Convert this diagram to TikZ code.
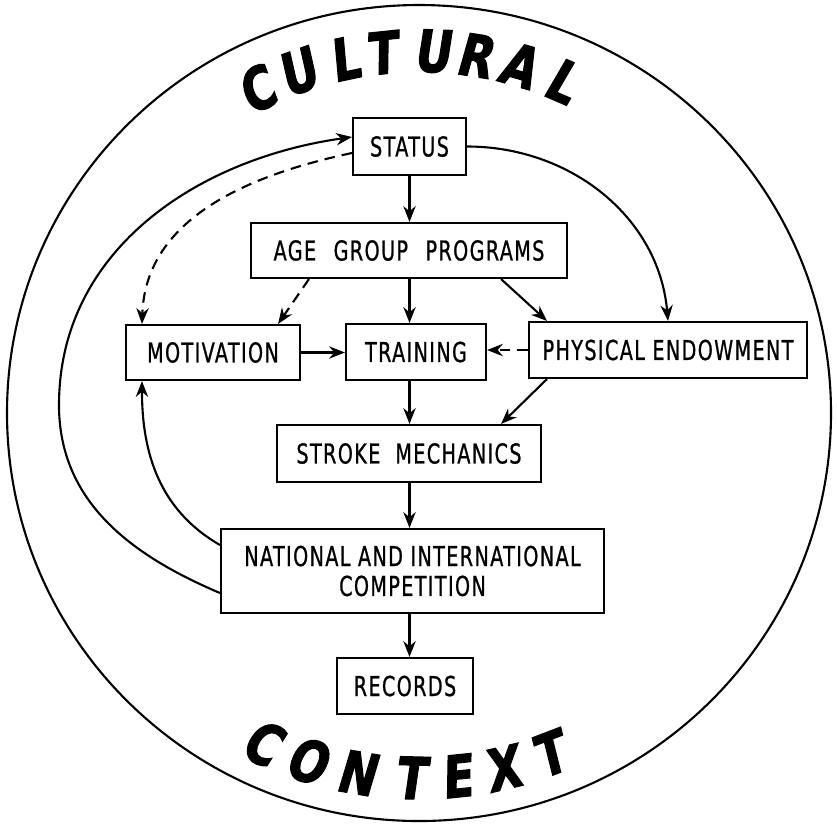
\documentclass[tikz,border=0pt]{standalone}
\usepackage{fontspec}
\setmainfont{DejaVu Sans}
\newfontfamily\boxfont[FakeStretch=0.7,LetterSpace=5,FakeBold=0.8]{DejaVu Sans}
\newfontfamily\bigfont[FakeStretch=0.78,FakeSlant=0.12,FakeBold=2]{DejaVu Sans}
\usetikzlibrary{arrows.meta,calc}

\begin{document}
\begin{tikzpicture}[x=0.02cm,y=0.02cm,
  box/.style={draw,line width=1.2pt,inner sep=0pt,align=center,
    font=\boxfont\fontsize{15.6}{17}\selectfont},
  arr/.style={line width=1.2pt,-{Stealth[length=9pt,width=7pt]}},
  dsh/.style={arr,dash pattern=on 6pt off 4pt},
  big/.style={font=\bigfont\bfseries\fontsize{33}{33}\selectfont,inner sep=0pt}]
\useasboundingbox (0,0) rectangle (837,-823);
\coordinate (O) at (419,-413);
\draw[line width=1.2pt] (O) ellipse [x radius=412, y radius=408];

% lettering around the rim
\foreach \ch/\ang [count=\i] in {C/116.7,U/109.6,L/101.9,T/96.0,U/87.9,R/81.1,A/74.0,L/66.6}
  \node[big,rotate=\ang-90] (top\i) at ($(O)+(\ang:362)$) {\ch};
\foreach \ch/\ang [count=\i] in {C/244.6,O/252.2,N/260.2,T/268.6,E/275.9,X/283.2,T/290.9}
  \node[big,rotate=\ang+90] (bot\i) at ($(O)+(\ang:365)$) {\ch};

% boxes
\node[box,minimum width=2.26cm,minimum height=1.14cm] (status) at (409.5,-146.5) {STATUS};
\node[box,minimum width=6.32cm,minimum height=1.10cm] (age) at (409,-250.5) {AGE\hspace{0.35cm}GROUP\hspace{0.35cm}PROGRAMS};
\node[box,minimum width=3.48cm,minimum height=1.10cm] (motivation) at (213,-352.5) {MOTIVATION};
\node[box,minimum width=2.80cm,minimum height=1.12cm] (training) at (416,-352) {TRAINING};
\node[box,minimum width=5.56cm,minimum height=1.12cm] (physical) at (668,-350) {PHYSICAL ENDOWMENT};
\node[box,minimum width=5.28cm,minimum height=1.14cm] (stroke) at (409,-453.5) {STROKE\hspace{0.3cm}MECHANICS};
\node[box,minimum width=7.66cm,minimum height=1.68cm] (national) at (412.5,-571) {NATIONAL AND INTERNATIONAL\\COMPETITION};
\node[box,minimum width=2.72cm,minimum height=1.12cm] (records) at (405,-686) {RECORDS};

% connectors
\draw[arr] (status.south) -- (status.south |- age.north);
\draw[arr] (status.south |- age.south) -- (status.south |- training.north);
\draw[dsh] ([xshift=1.18cm]age.south west) -- ([xshift=-0.46cm]motivation.north east);
\draw[arr] ([xshift=-1.34cm]age.south east) -- ([xshift=0.38cm]physical.north west);
\draw[arr] (status.east) to[out=0,in=95] (physical.north);
\draw[arr] (motivation.east) -- (motivation.east -| training.west);
\draw[dsh] (physical.west) -- (physical.west -| training.east);
\draw[arr] (status.south |- training.south) -- (status.south |- stroke.north);
\draw[arr] ([xshift=0.38cm]physical.south west) -- ([xshift=-0.82cm]stroke.north east);
\draw[arr] (status.south |- stroke.south) -- (status.south |- national.north);
\draw[arr] (status.south |- national.south) -- (status.south |- records.north);
\draw[arr] ([yshift=0.52cm]national.west) to[out=150,in=-90] ([xshift=0.34cm]motivation.south west);
\coordinate (loopL) at (59,-405);
\draw[arr] ([yshift=-0.44cm]national.west) to[out=157,in=-90] (loopL)
  to[out=90,in=188] ([yshift=0.19cm]status.west);
\draw[dsh] ([yshift=-0.13cm]status.west) to[out=192,in=88] ([xshift=0.34cm]motivation.north west);
\end{tikzpicture}
\end{document}
